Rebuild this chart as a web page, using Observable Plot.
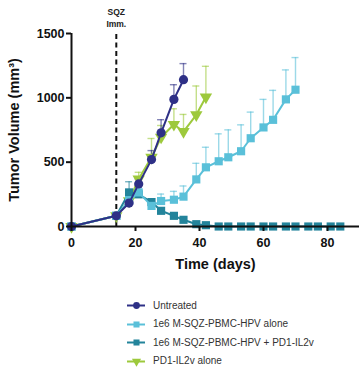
<!DOCTYPE html>
<html>
<head>
<meta charset="utf-8">
<script src="https://cdn.jsdelivr.net/npm/d3@7"></script>
<script src="https://cdn.jsdelivr.net/npm/@observablehq/plot@0.6"></script>
<style>
  html, body { margin: 0; padding: 0; background: #fff; }
  body { width: 362px; height: 368px; overflow: hidden; font-family: Arial, "Liberation Sans", sans-serif; }
  #legend { margin-left: 127px; margin-top: 14px; }
  .item { display: flex; align-items: center; height: 18.5px; font-size: 10px; color: #333; }
  .item svg { margin-right: 8px; }
</style>
</head>
<body>
<div id="chart"></div>
<div id="legend"></div>
<script>
const days = [0, 14, 18, 21, 25, 28, 32, 35, 39, 42, 46, 49, 53, 56, 60, 63, 67, 70, 74, 77, 81, 84];

const seriesNames = [
  "Untreated",
  "1e6 M-SQZ-PBMC-HPV alone",
  "1e6 M-SQZ-PBMC-HPV + PD1-IL2v",
  "PD1-IL2v alone"
];
const seriesColors = ["#2e3086", "#5ac0d9", "#23849b", "#9dc93c"];
const seriesSymbols = ["circle", "square", "square", "triangle"];

const untreatedMean = [0, 83, 182, 331, 520, 728, 988, 1141];
const untreatedUpper = [0, 95, 225, 370, 590, 830, 1102, 1266];

const sqzMean = [0, 83, 205, 265, 160, 198, 208, 232, 366, 460, 507, 538, 585, 686, 770, 829, 988, 1063];
const sqzUpper = [0, 92, 240, 300, 200, 252, 273, 315, 491, 616, 720, 751, 790, 889, 988, 1058, 1217, 1313];

const comboMean = [0, 83, 265, 250, 190, 122, 83, 52, 18, 10, 0, 0, 0, 0, 0, 0, 0, 0, 0, 0, 0, 0];
const comboUpper = [0, 92, 348, 280, 205, 135, 92, 60, 24, 14, 0, 0, 0, 0, 0, 0, 0, 0, 0, 0, 0, 0];

const pd1Mean = [0, 83, 200, 369, 538, 694, 793, 738, 868, 1006];
const pd1Upper = [0, 90, 240, 421, 684, 785, 915, 871, 1092, 1245];

const xTicks = [0, 20, 40, 60, 80];
const yTicks = [0, 500, 1000, 1500];
const immDay = [14];
const immLabel = "SQZ\nImm.";

function build(idx, means, uppers) {
  return means.map((m, i) => ({series: seriesNames[idx], day: days[i], mean: m, upper: uppers[i]}));
}
const tables = [
  build(0, untreatedMean, untreatedUpper),
  build(1, sqzMean, sqzUpper),
  build(2, comboMean, comboUpper),
  build(3, pd1Mean, pd1Upper)
];

const drawOrder = [3, 2, 1, 0];
const marks = [];
for (const i of drawOrder) {
  const data = tables[i];
  const c = seriesColors[i];
  const eb = data.filter(d => d.upper > d.mean);
  marks.push(Plot.ruleX(eb, {x: "day", y1: "mean", y2: "upper", stroke: c, strokeWidth: 1.4, strokeOpacity: 0.6}));
  marks.push(Plot.ruleY(eb, {x1: d => d.day - 1.1, x2: d => d.day + 1.1, y: "upper", stroke: c, strokeWidth: 1.4, strokeOpacity: 0.6}));
}
for (const i of drawOrder) {
  const data = tables[i];
  const c = seriesColors[i];
  marks.push(Plot.line(data, {x: "day", y: "mean", stroke: c, strokeWidth: 2}));
  marks.push(Plot.dot(data, {x: "day", y: "mean", fill: c, symbol: seriesSymbols[i], r: 4.6, rotate: i === 3 ? 180 : 0}));
}

const chart = Plot.plot({
  width: 362,
  height: 282,
  marginTop: 33,
  marginBottom: 56,
  marginLeft: 71,
  marginRight: 3,
  style: {fontFamily: 'Arial, "Liberation Sans", sans-serif', color: "#111", background: "#fff"},
  x: {domain: [0, 90]},
  y: {domain: [0, 1500]},
  marks: [
    Plot.ruleX(immDay, {x: d => d, y1: 0, y2: 1500, stroke: "#111", strokeWidth: 2, strokeDasharray: "5,3.5"}),
    Plot.text([immLabel], {x: immDay[0], y: 1500, text: d => d, dy: -7, lineAnchor: "bottom", fontSize: 8.5, fontWeight: "bold", fill: "#222", lineHeight: 1.35}),
    ...marks,
    Plot.axisX({ticks: xTicks, tickSize: 5, tickPadding: 7, fontSize: 12.5, fontWeight: "bold", strokeWidth: 2, label: null, tickFormat: d => String(d)}),
    Plot.axisY({ticks: yTicks, tickSize: 5, tickPadding: 2, fontSize: 12.5, fontWeight: "bold", strokeWidth: 2, label: null, tickFormat: d => String(d)}),
    Plot.ruleX([0], {stroke: "#111", strokeWidth: 2}),
    Plot.ruleY([0], {stroke: "#111", strokeWidth: 2}),
    Plot.text(["Time (days)"], {frameAnchor: "bottom", dy: 42, text: d => d, fontSize: 14.5, fontWeight: "bold", fill: "#111"}),
    Plot.text(["Tumor Volume (mm³)"], {frameAnchor: "left", textAnchor: "middle", dx: -57, rotate: -90, text: d => d, fontSize: 14.5, fontWeight: "bold", fill: "#111"})
  ]
});
document.getElementById("chart").appendChild(chart);

const legend = document.getElementById("legend");
seriesNames.forEach((name, i) => {
  const item = document.createElement("div");
  item.className = "item";
  const sw = Plot.plot({
    width: 18, height: 10, margin: 0,
    x: {domain: [0, 1], axis: null}, y: {domain: [0, 1], axis: null},
    style: {background: "transparent", overflow: "visible"},
    marks: [
      Plot.ruleY([0.5], {x1: 0, x2: 1, stroke: seriesColors[i], strokeWidth: 2}),
      Plot.dot([0.5], {x: 0.5, y: 0.5, fill: seriesColors[i], symbol: seriesSymbols[i], r: 3.4, rotate: i === 3 ? 180 : 0})
    ]
  });
  item.appendChild(sw);
  const t = document.createElement("span");
  t.textContent = name;
  item.appendChild(t);
  legend.appendChild(item);
});
</script>
</body>
</html>
